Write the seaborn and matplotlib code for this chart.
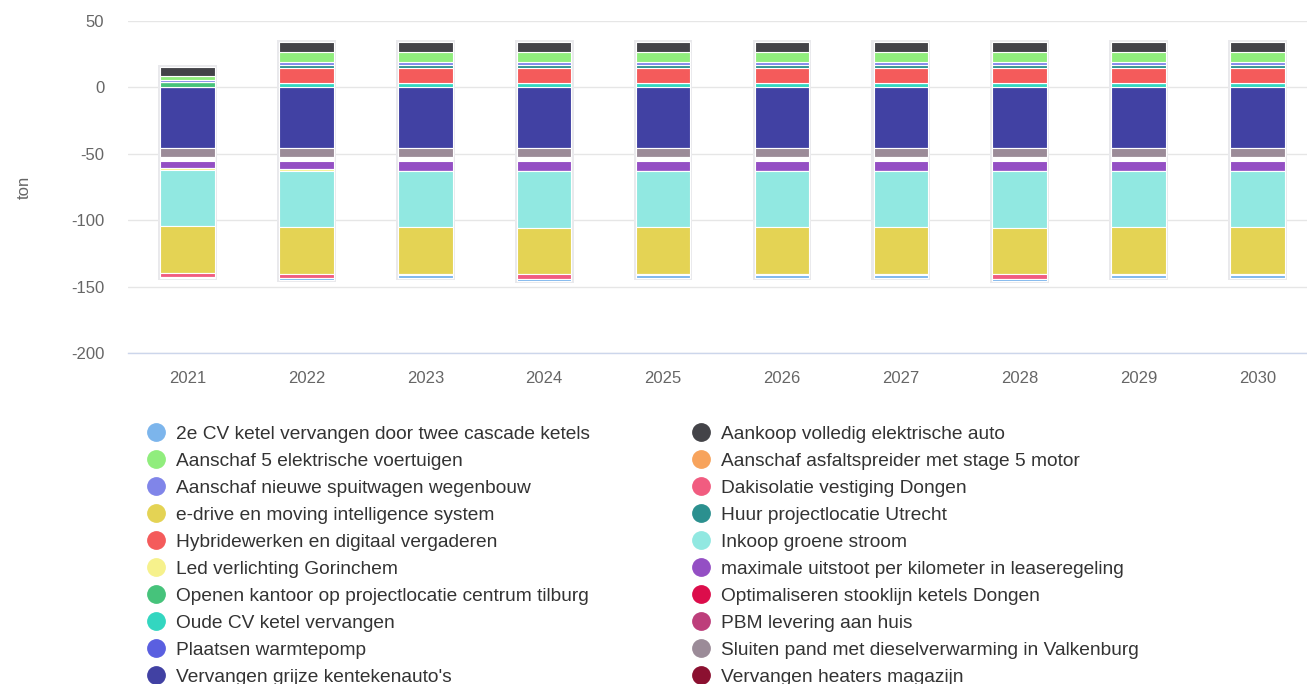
import matplotlib
matplotlib.use("Agg")
import matplotlib.pyplot as plt
import seaborn as sns
import numpy as np
import pandas as pd
from matplotlib.lines import Line2D

sns.set_style("white")
plt.rcParams['font.family'] = ['Liberation Sans', 'DejaVu Sans']
plt.rcParams['axes.unicode_minus'] = False

# ---------------------------------
#  data (ton per year)
# ---------------------------------
years = ['2021', '2022', '2023', '2024', '2025', '2026', '2027', '2028', '2029', '2030']

cv_ketel_2e    = [-1.0, -1.9, -2.0, -2.0, -2.0, -2.0, -2.0, -2.0, -2.0, -2.0]
auto_elektr    = [6.5, 7.5, 7.5, 7.5, 7.5, 7.5, 7.5, 7.5, 7.5, 7.5]
voertuigen_5   = [3.5, 7.4, 7.4, 7.4, 7.4, 7.4, 7.4, 7.4, 7.4, 7.4]
asfaltspreider = [0, 0, 0, 0, 0, 0, 0, 0, 0, 0]
spuitwagen     = [1.5, 2.5, 2.5, 2.5, 2.5, 2.5, 2.5, 2.5, 2.5, 2.5]
dakisolatie    = [-3.0, -3.0, -1.2, -3.5, -1.2, -1.2, -1.2, -3.5, -1.2, -1.2]
e_drive        = [-35.0, -35.0, -35.0, -35.0, -35.0, -35.0, -35.0, -35.0, -35.0, -35.0]
huur_utrecht   = [0, 2.3, 2.3, 2.3, 2.3, 2.3, 2.3, 2.3, 2.3, 2.3]
hybride        = [0, 11.7, 11.7, 11.7, 11.7, 11.7, 11.7, 11.7, 11.7, 11.7]
groene_stroom  = [-42.3, -42.3, -42.3, -42.3, -42.3, -42.3, -42.3, -42.3, -42.3, -42.3]
led_gorinchem  = [-2.0, -1.5, 0, 0, 0, 0, 0, 0, 0, 0]
max_uitstoot   = [-4.8, -6.0, -7.4, -7.6, -7.4, -7.4, -7.4, -7.6, -7.4, -7.4]
kantoor_tilb   = [3.8, -0.8, -0.8, -0.8, -0.8, -0.8, -0.8, -0.8, -0.8, -0.8]
stooklijn      = [-0.8, -0.8, -0.8, -0.8, -0.8, -0.8, -0.8, -0.8, -0.8, -0.8]
oude_cv        = [-0.8, 3.0, 3.0, 3.0, 3.0, 3.0, 3.0, 3.0, 3.0, 3.0]
pbm            = [-0.8, -0.8, -0.8, -0.8, -0.8, -0.8, -0.8, -0.8, -0.8, -0.8]
warmtepomp     = [-0.8, -0.8, -0.8, -0.8, -0.8, -0.8, -0.8, -0.8, -0.8, -0.8]
sluiten_pand   = [-6.7, -6.7, -6.7, -6.7, -6.7, -6.7, -6.7, -6.7, -6.7, -6.7]
grijze_auto    = [-45.7, -45.7, -45.7, -45.7, -45.7, -45.7, -45.7, -45.7, -45.7, -45.7]
heaters        = [0, 0, 0, 0, 0, 0, 0, 0, 0, 0]

names = [
    "2e CV ketel vervangen door twee cascade ketels",
    "Aankoop volledig elektrische auto",
    "Aanschaf 5 elektrische voertuigen",
    "Aanschaf asfaltspreider met stage 5 motor",
    "Aanschaf nieuwe spuitwagen wegenbouw",
    "Dakisolatie vestiging Dongen",
    "e-drive en moving intelligence system",
    "Huur projectlocatie Utrecht",
    "Hybridewerken en digitaal vergaderen",
    "Inkoop groene stroom",
    "Led verlichting Gorinchem",
    "maximale uitstoot per kilometer in leaseregeling",
    "Openen kantoor op projectlocatie centrum tilburg",
    "Optimaliseren stooklijn ketels Dongen",
    "Oude CV ketel vervangen",
    "PBM levering aan huis",
    "Plaatsen warmtepomp",
    "Sluiten pand met dieselverwarming in Valkenburg",
    "Vervangen grijze kentekenauto's",
    "Vervangen heaters magazijn",
]
series = [cv_ketel_2e, auto_elektr, voertuigen_5, asfaltspreider, spuitwagen,
          dakisolatie, e_drive, huur_utrecht, hybride, groene_stroom,
          led_gorinchem, max_uitstoot, kantoor_tilb, stooklijn, oude_cv,
          pbm, warmtepomp, sluiten_pand, grijze_auto, heaters]

colors = ['#7cb5ec', '#434348', '#90ed7d', '#f7a35c', '#8085e9',
          '#f15c80', '#e4d354', '#2b908f', '#f45b5b', '#91e8e1',
          '#f6f18c', '#944fc4', '#46c37b', '#dc0d4b', '#33d6c0',
          '#bd3e7b', '#5a5fe0', '#9b8b98', '#4141a3', '#8b1030']

df = pd.DataFrame({n: v for n, v in zip(names, series)}, index=years)

# ---------------------------------
#  figure
# ---------------------------------
fig = plt.figure(figsize=(13.07, 6.84), dpi=100)
ax = fig.add_axes([128/1307, 1 - 353/684, 1189/1307, 332/684])

x = np.arange(len(years))
width = 0.46

# soft shadow behind each column
pos_tot = df.clip(lower=0).sum(axis=1).values
neg_tot = df.clip(upper=0).sum(axis=1).values
ax.bar(x, pos_tot - neg_tot + 2.4, bottom=neg_tot - 1.2, width=width + 0.035,
       color='#e9e9ec', edgecolor='none', zorder=1)

# Highcharts style stacking: last series nearest to zero
pos_base = np.zeros(len(years))
neg_base = np.zeros(len(years))
for name, col in zip(names[::-1], colors[::-1]):
    vals = df[name].values
    pos = np.where(vals > 0, vals, 0)
    neg = np.where(vals < 0, vals, 0)
    if pos.any():
        ax.bar(x, pos, bottom=pos_base, width=width, color=col,
               edgecolor='white', linewidth=0.8, zorder=3)
    if neg.any():
        ax.bar(x, neg, bottom=neg_base, width=width, color=col,
               edgecolor='white', linewidth=0.8, zorder=3)
    pos_base += pos
    neg_base += neg

ax.set_xlim(-0.5, len(years) - 0.5)
ax.set_ylim(-200, 50)
ax.set_yticks([50, 0, -50, -100, -150, -200])
ax.set_xticks(x)
ax.set_xticklabels(years)
ax.yaxis.grid(True, color='#e6e6e6', linewidth=1)
ax.set_axisbelow(True)
for s in ['top', 'right', 'left']:
    ax.spines[s].set_visible(False)
ax.spines['bottom'].set_color('#ccd6eb')
ax.spines['bottom'].set_linewidth(1)
ax.tick_params(axis='both', length=0, labelsize=12, colors='#666666')
ax.tick_params(axis='y', pad=17)
ax.tick_params(axis='x', pad=13)
ax.set_ylabel('ton', fontsize=12, color='#666666', labelpad=28)

# legend: two columns, filled row by row
def handle(c):
    return Line2D([0], [0], marker='o', linestyle='none', markersize=12.5,
                  markerfacecolor=c, markeredgecolor=c)

left_idx = list(range(0, 20, 2))
right_idx = list(range(1, 20, 2))
leg_kw = dict(frameon=False, fontsize=13.8, labelcolor='#333333',
              handletextpad=0.52, labelspacing=0.5, borderaxespad=0,
              handlelength=1.0, loc='upper left')
leg1 = fig.legend([handle(colors[i]) for i in left_idx], [names[i] for i in left_idx],
                  bbox_to_anchor=(139/1307, 1 - 418/684), **leg_kw)
leg2 = fig.legend([handle(colors[i]) for i in right_idx], [names[i] for i in right_idx],
                  bbox_to_anchor=(684/1307, 1 - 418/684), **leg_kw)

fig.savefig('out.png', dpi=100)
